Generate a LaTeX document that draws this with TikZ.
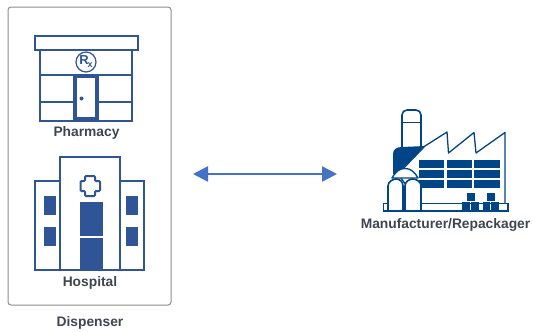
\documentclass[tikz,border=0pt]{standalone}
\usepackage{fontspec}
\setmainfont{Liberation Sans}
\definecolor{ink}{HTML}{2F5597}
\definecolor{navy}{HTML}{004587}
\definecolor{lab}{HTML}{3F4550}
\definecolor{arr}{HTML}{4472C4}
\usetikzlibrary{arrows.meta}
\tikzset{
 lbl/.style={font=\bfseries\fontsize{13.8pt}{15pt}\selectfont,text=lab,inner sep=0pt},
 ol/.style={draw=ink,line width=2pt,fill=white},
 nl/.style={draw=navy,line width=1.6pt,fill=white,line join=round},
}
\begin{document}
\begin{tikzpicture}[x=1pt,y=-1pt]
\useasboundingbox (0,0) rectangle (533,332);
% dispenser box
\node[draw=black!45,line width=1pt,rounded corners=3pt,minimum width=163pt,minimum height=298pt,inner sep=0pt] (box) at (89.5,156) {};
% pharmacy
\draw[ol] (40,50) rectangle (132,120.5);
\draw[ol] (35,35.5) rectangle (137.5,50);
\draw[draw=ink,line width=2pt] (40,75) -- (132,75);
\draw[draw=ink,line width=2pt] (40,102) -- (132,102);
\draw[draw=ink,line width=4pt,fill=white] (75,76) rectangle (97,119);
\fill[ink] (81.5,98.5) circle (2pt);
\node[draw=ink,line width=1.2pt,circle,minimum size=20pt,inner sep=0pt,text=ink,font=\bfseries\fontsize{13pt}{13pt}\selectfont] (rx) at (86,62) {R\kern-1pt\raisebox{-3pt}{\fontsize{9pt}{9pt}\selectfont x}};
\node[lbl] (pharm) at (86.5,133) {Pharmacy};
% hospital
\draw[ol] (35,181) rectangle (60,270);
\draw[ol] (120,181) rectangle (144,270);
\draw[ol] (60,157) rectangle (120,270);
\fill[ink] (43.5,195.5) rectangle (55.5,214.5);
\fill[ink] (43.5,227) rectangle (55.5,246);
\fill[ink] (125.5,195.5) rectangle (138,214.5);
\fill[ink] (125.5,227) rectangle (138,246);
\fill[ink] (79.5,202) rectangle (102.5,235.5);
\fill[ink] (79.5,238) rectangle (102.5,270);
\draw[draw=ink,line width=2pt,fill=white,rounded corners=1pt] (85,176) -- (95,176) -- (95,181) -- (100,181) -- (100,191) -- (95,191) -- (95,196) -- (85,196) -- (85,191) -- (80.5,191) -- (80.5,181) -- (85,181) -- cycle;
\node[lbl] (hosp) at (90,283) {Hospital};
\node[lbl] (disp) at (90,322.5) {Dispenser};
% arrow
\coordinate (al) at (193,174);
\coordinate (ar) at (337,174);
\draw[draw=arr,line width=2.5pt,{Triangle[length=15pt,width=15pt]}-{Triangle[length=15pt,width=15pt]}] (al) -- (ar);
% factory
\draw[nl] (402,147) -- (402,115) arc (180:270:5) -- (416,110) arc (-90:0:5) -- (421,147);
\draw[navy,line width=1.6pt] (402,122.5) -- (421,122.5);
\draw[nl,line width=1.3pt] (425,146) -- (447,132) -- (448.5,153) -- (474,132.5) -- (476,153) -- (505,132.5) -- (505,204) -- (420,204) -- (398,174) -- cycle;
\fill[navy] (393,154) .. controls (393,149) and (397,147) .. (402,147) -- (425,146) -- (397,174) -- (393,174) -- cycle;
\foreach \xa/\xb in {418.5/444,446.5/471.5,474/499.5}{
  \foreach \ya/\yb in {160/167.5,170/177.5,180/187.5}{
    \fill[navy] (\xa,\ya) rectangle (\xb,\yb);
  }
}
\draw[draw=navy,line width=1.4pt,fill=white] (383.5,203.5) rectangle (508,211);
\draw[nl,line width=1.3pt] (392,178) .. controls (396,171) and (400,168.5) .. (405,168.5) .. controls (410,168.5) and (414,171) .. (418,178) -- cycle;
\draw[nl] (388,211) -- (388,186) .. controls (388,181) and (394,179) .. (396,179) .. controls (400,179) and (403,182) .. (403,186) -- (403,211) -- cycle;
\draw[nl] (405,211) -- (405,186) .. controls (405,182) and (409,179) .. (412.5,179) .. controls (417,179) and (421,182) .. (421,186) -- (421,211) -- cycle;
\foreach \x/\y in {467/192.5,462/201.5,471/201.5,487/192.5,482.5/201.5,491/201.5}{
  \fill[navy] (\x,\y) rectangle ++(7.5,8.5);
}
\node[lbl] (mfg) at (445.5,224.5) {Manufacturer/Repackager};
\end{tikzpicture}
\end{document}
